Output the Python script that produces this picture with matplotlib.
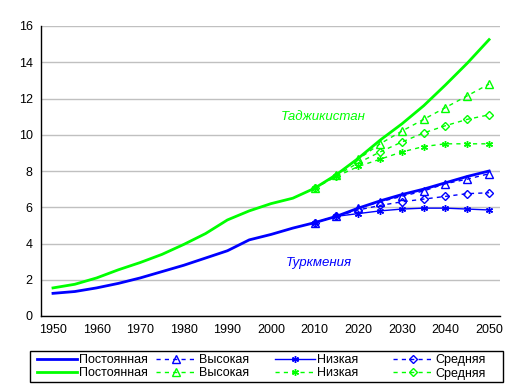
import numpy as np
import matplotlib
matplotlib.use("Agg")
from matplotlib import pyplot as plt
from matplotlib.patches import Rectangle

plt.rcParams['font.family'] = ['Liberation Sans', 'DejaVu Sans']

# years
years_hist = list(range(1950, 2055, 5))
years_proj = list(range(2010, 2055, 5))

# Туркмения
tm_const = [1.25, 1.35, 1.55, 1.8, 2.1, 2.45, 2.8, 3.2, 3.6, 4.2, 4.5, 4.85,
            5.15, 5.5, 5.95, 6.35, 6.7, 7.0, 7.35, 7.7, 8.0]
tm_high = [5.15, 5.5, 5.95, 6.3, 6.6, 6.9, 7.3, 7.55, 7.85]
tm_low = [5.15, 5.5, 5.65, 5.8, 5.9, 5.95, 5.95, 5.9, 5.85]
tm_mid = [5.15, 5.5, 5.85, 6.1, 6.3, 6.45, 6.6, 6.75, 6.8]

# Таджикистан
tj_const = [1.55, 1.75, 2.1, 2.55, 2.95, 3.4, 3.95, 4.55, 5.3, 5.8, 6.2, 6.5,
            7.05, 7.8, 8.7, 9.7, 10.6, 11.6, 12.75, 13.95, 15.25]
tj_high = [7.05, 7.8, 8.65, 9.5, 10.2, 10.85, 11.5, 12.15, 12.8]
tj_low = [7.05, 7.7, 8.25, 8.65, 9.05, 9.35, 9.5, 9.5, 9.5]
tj_mid = [7.05, 7.75, 8.45, 9.05, 9.6, 10.1, 10.5, 10.85, 11.1]

BLUE = '#0000ff'
GREEN = '#00ff00'
STAR = (6, 2, 0)

W, H = 515, 390
fig = plt.figure(figsize=(W / 100, H / 100), dpi=100)
ax = fig.add_axes([41 / W, 74 / H, 459 / W, 290 / H])

dash = (0, (3, 3))
l1, = ax.plot(years_hist, tm_const, color=BLUE, lw=2, label='Постоянная')
l2, = ax.plot(years_hist, tj_const, color=GREEN, lw=2, label='Постоянная')
l3, = ax.plot(years_proj, tm_high, color=BLUE, lw=1, ls=dash, marker='^',
              mfc='none', ms=6, label='Высокая')
l4, = ax.plot(years_proj, tj_high, color=GREEN, lw=1, ls=dash, marker='^',
              mfc='none', ms=6, label='Высокая')
l5, = ax.plot(years_proj, tm_low, color=BLUE, lw=1, ls='-', marker=STAR,
              ms=5, label='Низкая')
l6, = ax.plot(years_proj, tj_low, color=GREEN, lw=1, ls=dash, marker=STAR,
              ms=5, label='Низкая')
l7, = ax.plot(years_proj, tm_mid, color=BLUE, lw=1, ls=dash, marker='D',
              mfc='none', ms=4, label='Средняя')
l8, = ax.plot(years_proj, tj_mid, color=GREEN, lw=1, ls=dash, marker='D',
              mfc='none', ms=4, label='Средняя')

ax.text(2012, 11.0, 'Таджикистан', color=GREEN, style='italic',
        fontsize=9.5, ha='center', va='center')
ax.text(2011, 2.93, 'Туркмения', color=BLUE, style='italic',
        fontsize=9.5, ha='center', va='center')

ax.set_xlim(1947.25, 2052.5)
ax.set_ylim(0, 16)
ax.set_xticks(range(1950, 2060, 10))
ax.set_yticks(range(0, 18, 2))
ax.tick_params(length=0, labelsize=9, pad=6)
ax.yaxis.grid(True, color='#c0c0c0', lw=1)
ax.set_axisbelow(True)
for s in ('top', 'right'):
    ax.spines[s].set_visible(False)
for s in ('left', 'bottom'):
    ax.spines[s].set_color('black')
    ax.spines[s].set_linewidth(1)

# legend: one column at a time, plus a plain frame around all of them
cols = [(37, [l1, l2]), (156, [l3, l4]), (275, [l5, l6]), (393, [l7, l8])]
for x0, hs in cols:
    fig.legend(handles=hs, loc='upper left', bbox_to_anchor=(x0 / W, 1 - 354 / H),
               frameon=False, fontsize=9, handlelength=3.2, handletextpad=0.2,
               borderpad=0, borderaxespad=0, labelspacing=0.12)
fig.patches.append(Rectangle((30 / W, 8 / H), 473 / W, 31 / H, transform=fig.transFigure,
                             fill=False, edgecolor='black', lw=1))

fig.savefig('out.png', dpi=100)
